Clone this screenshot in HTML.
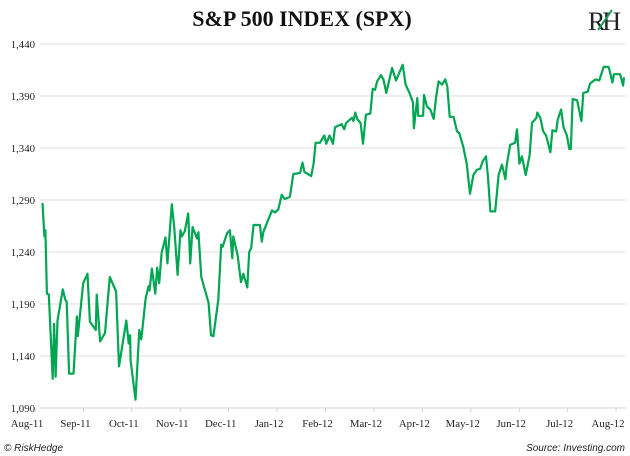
<!DOCTYPE html>
<html><head><meta charset="utf-8"><style>
body{margin:0;background:#fff;}
svg{display:block;}
</style></head><body>
<svg id="chart" width="630" height="456" viewBox="0 0 630 456" xmlns="http://www.w3.org/2000/svg">
<rect width="630" height="456" fill="#fff"/>
<text x="302" y="26" text-anchor="middle" font-family="Liberation Serif, serif" font-weight="bold" font-size="22" fill="#111">S&amp;P 500 INDEX (SPX)</text>
<g>
<text x="603" y="30" text-anchor="middle" font-family="Liberation Serif, serif" font-size="26" fill="#222" letter-spacing="-3">RH</text>
<line x1="598" y1="30" x2="612" y2="10" stroke="#1a9e55" stroke-width="2"/>
</g>
<g id="grid"></g>
<g id="yticks"></g>
<g id="xticks"></g>
<path id="line" fill="none" stroke="#00a651" stroke-width="2.2" stroke-linejoin="round"/>
<text x="4" y="451" font-family="Liberation Sans, sans-serif" font-style="italic" font-size="10" fill="#222">© RiskHedge</text>
<text x="625" y="451" text-anchor="end" font-family="Liberation Sans, sans-serif" font-style="italic" font-size="10" fill="#222">Source: Investing.com</text>
</svg>
<script>
const monthLabels=["Aug-11","Sep-11","Oct-11","Nov-11","Dec-11","Jan-12","Feb-12","Mar-12","Apr-12","May-12","Jun-12","Jul-12","Aug-12"];
const yTicks=[1090,1140,1190,1240,1290,1340,1390,1440];
const months=[0.32,0.36,0.38,0.41,0.45,0.53,0.56,0.59,0.63,0.74,0.79,0.82,0.87,0.96,1.03,1.05,1.16,1.25,1.30,1.42,1.44,1.51,1.61,1.71,1.84,1.90,2.05,2.10,2.13,2.14,2.24,2.32,2.36,2.45,2.51,2.53,2.58,2.65,2.69,2.73,2.78,2.86,2.90,2.99,3.04,3.11,3.17,3.20,3.26,3.33,3.37,3.42,3.51,3.54,3.60,3.75,3.80,3.85,3.95,4.01,4.04,4.13,4.19,4.24,4.26,4.35,4.42,4.47,4.55,4.59,4.63,4.68,4.81,4.85,4.88,5.06,5.12,5.19,5.26,5.32,5.43,5.50,5.64,5.69,5.73,5.87,5.92,5.96,6.05,6.14,6.18,6.25,6.32,6.36,6.50,6.55,6.59,6.71,6.74,6.78,6.82,6.89,6.94,7.00,7.09,7.14,7.19,7.23,7.31,7.36,7.42,7.54,7.62,7.76,7.82,7.90,7.97,7.99,8.06,8.08,8.18,8.20,8.26,8.33,8.40,8.45,8.50,8.57,8.64,8.68,8.73,8.81,8.88,8.93,9.01,9.08,9.15,9.22,9.29,9.36,9.41,9.48,9.52,9.57,9.67,9.74,9.81,9.88,9.91,9.98,10.08,10.12,10.17,10.22,10.30,10.38,10.43,10.52,10.54,10.60,10.66,10.72,10.81,10.85,10.93,10.96,11.03,11.08,11.15,11.20,11.23,11.27,11.36,11.45,11.49,11.58,11.63,11.74,11.82,11.91,12.01,12.04,12.09,12.12,12.25,12.31,12.33];
const prices=[1287,1255,1261,1200,1199,1118,1171,1120,1174,1204,1194,1192,1123,1123,1178,1159,1210,1219,1173,1165,1199,1154,1162,1216,1202,1130,1174,1152,1160,1136,1098,1165,1156,1195,1207,1203,1224,1200,1225,1210,1239,1254,1229,1286,1264,1218,1261,1255,1260,1277,1229,1264,1253,1259,1216,1191,1160,1159,1194,1247,1245,1258,1261,1234,1255,1237,1211,1219,1206,1240,1244,1266,1266,1250,1259,1280,1278,1281,1295,1291,1293,1315,1316,1326,1317,1313,1325,1345,1345,1352,1344,1352,1344,1360,1363,1358,1364,1369,1366,1374,1368,1364,1344,1372,1373,1397,1396,1404,1410,1406,1393,1417,1405,1420,1401,1393,1384,1359,1388,1371,1371,1391,1380,1377,1368,1389,1404,1401,1406,1399,1370,1370,1356,1354,1341,1325,1296,1314,1319,1320,1327,1332,1312,1279,1279,1314,1324,1310,1324,1343,1345,1358,1325,1332,1314,1333,1364,1369,1374,1369,1356,1352,1336,1357,1356,1367,1377,1360,1352,1339,1339,1387,1386,1366,1393,1394,1402,1406,1405,1418,1418,1413,1403,1411,1411,1400,1408];
const NS="http://www.w3.org/2000/svg";
const xS=m=>27+m*48.42;
const yS=v=>44+(1440-v)*364/350;
const grid=document.getElementById('grid'),yt=document.getElementById('yticks'),xt=document.getElementById('xticks');
yTicks.forEach(v=>{
  const l=document.createElementNS(NS,'line');
  
  
  l.setAttribute('x1',40);l.setAttribute('x2',626);l.setAttribute('y1',yS(v));l.setAttribute('y2',yS(v));
  l.setAttribute('stroke',v===1090?'#d4d4d4':'#dcdcdc');l.setAttribute('stroke-width',1);
  grid.appendChild(l);
  const t=document.createElementNS(NS,'text');
  
  
  t.setAttribute('x',35);t.setAttribute('y',yS(v)+4);t.setAttribute('text-anchor','end');
  t.setAttribute('font-family','Liberation Serif, serif');t.setAttribute('font-size','10.8');t.setAttribute('fill','#222');
  t.textContent=v.toLocaleString('en-US');
  yt.appendChild(t);
});
monthLabels.forEach((s,i)=>{
  const tk=document.createElementNS(NS,'line');
  
  
  tk.setAttribute('x1',xS(i)+8);tk.setAttribute('x2',xS(i)+8);tk.setAttribute('y1',408);tk.setAttribute('y2',412);
  tk.setAttribute('stroke','#d4d4d4');
  xt.appendChild(tk);
  const t=document.createElementNS(NS,'text');
  
  
  t.setAttribute('x',xS(i));t.setAttribute('y',427);t.setAttribute('text-anchor','middle');
  t.setAttribute('font-family','Liberation Serif, serif');t.setAttribute('font-size','10.8');t.setAttribute('fill','#222');
  t.textContent=s;
  xt.appendChild(t);
});
document.getElementById('line').setAttribute('d',months.map((m,i)=>(i?'L':'M')+xS(m).toFixed(1)+','+yS(prices[i]).toFixed(1)).join(''));
</script>
</body></html>
